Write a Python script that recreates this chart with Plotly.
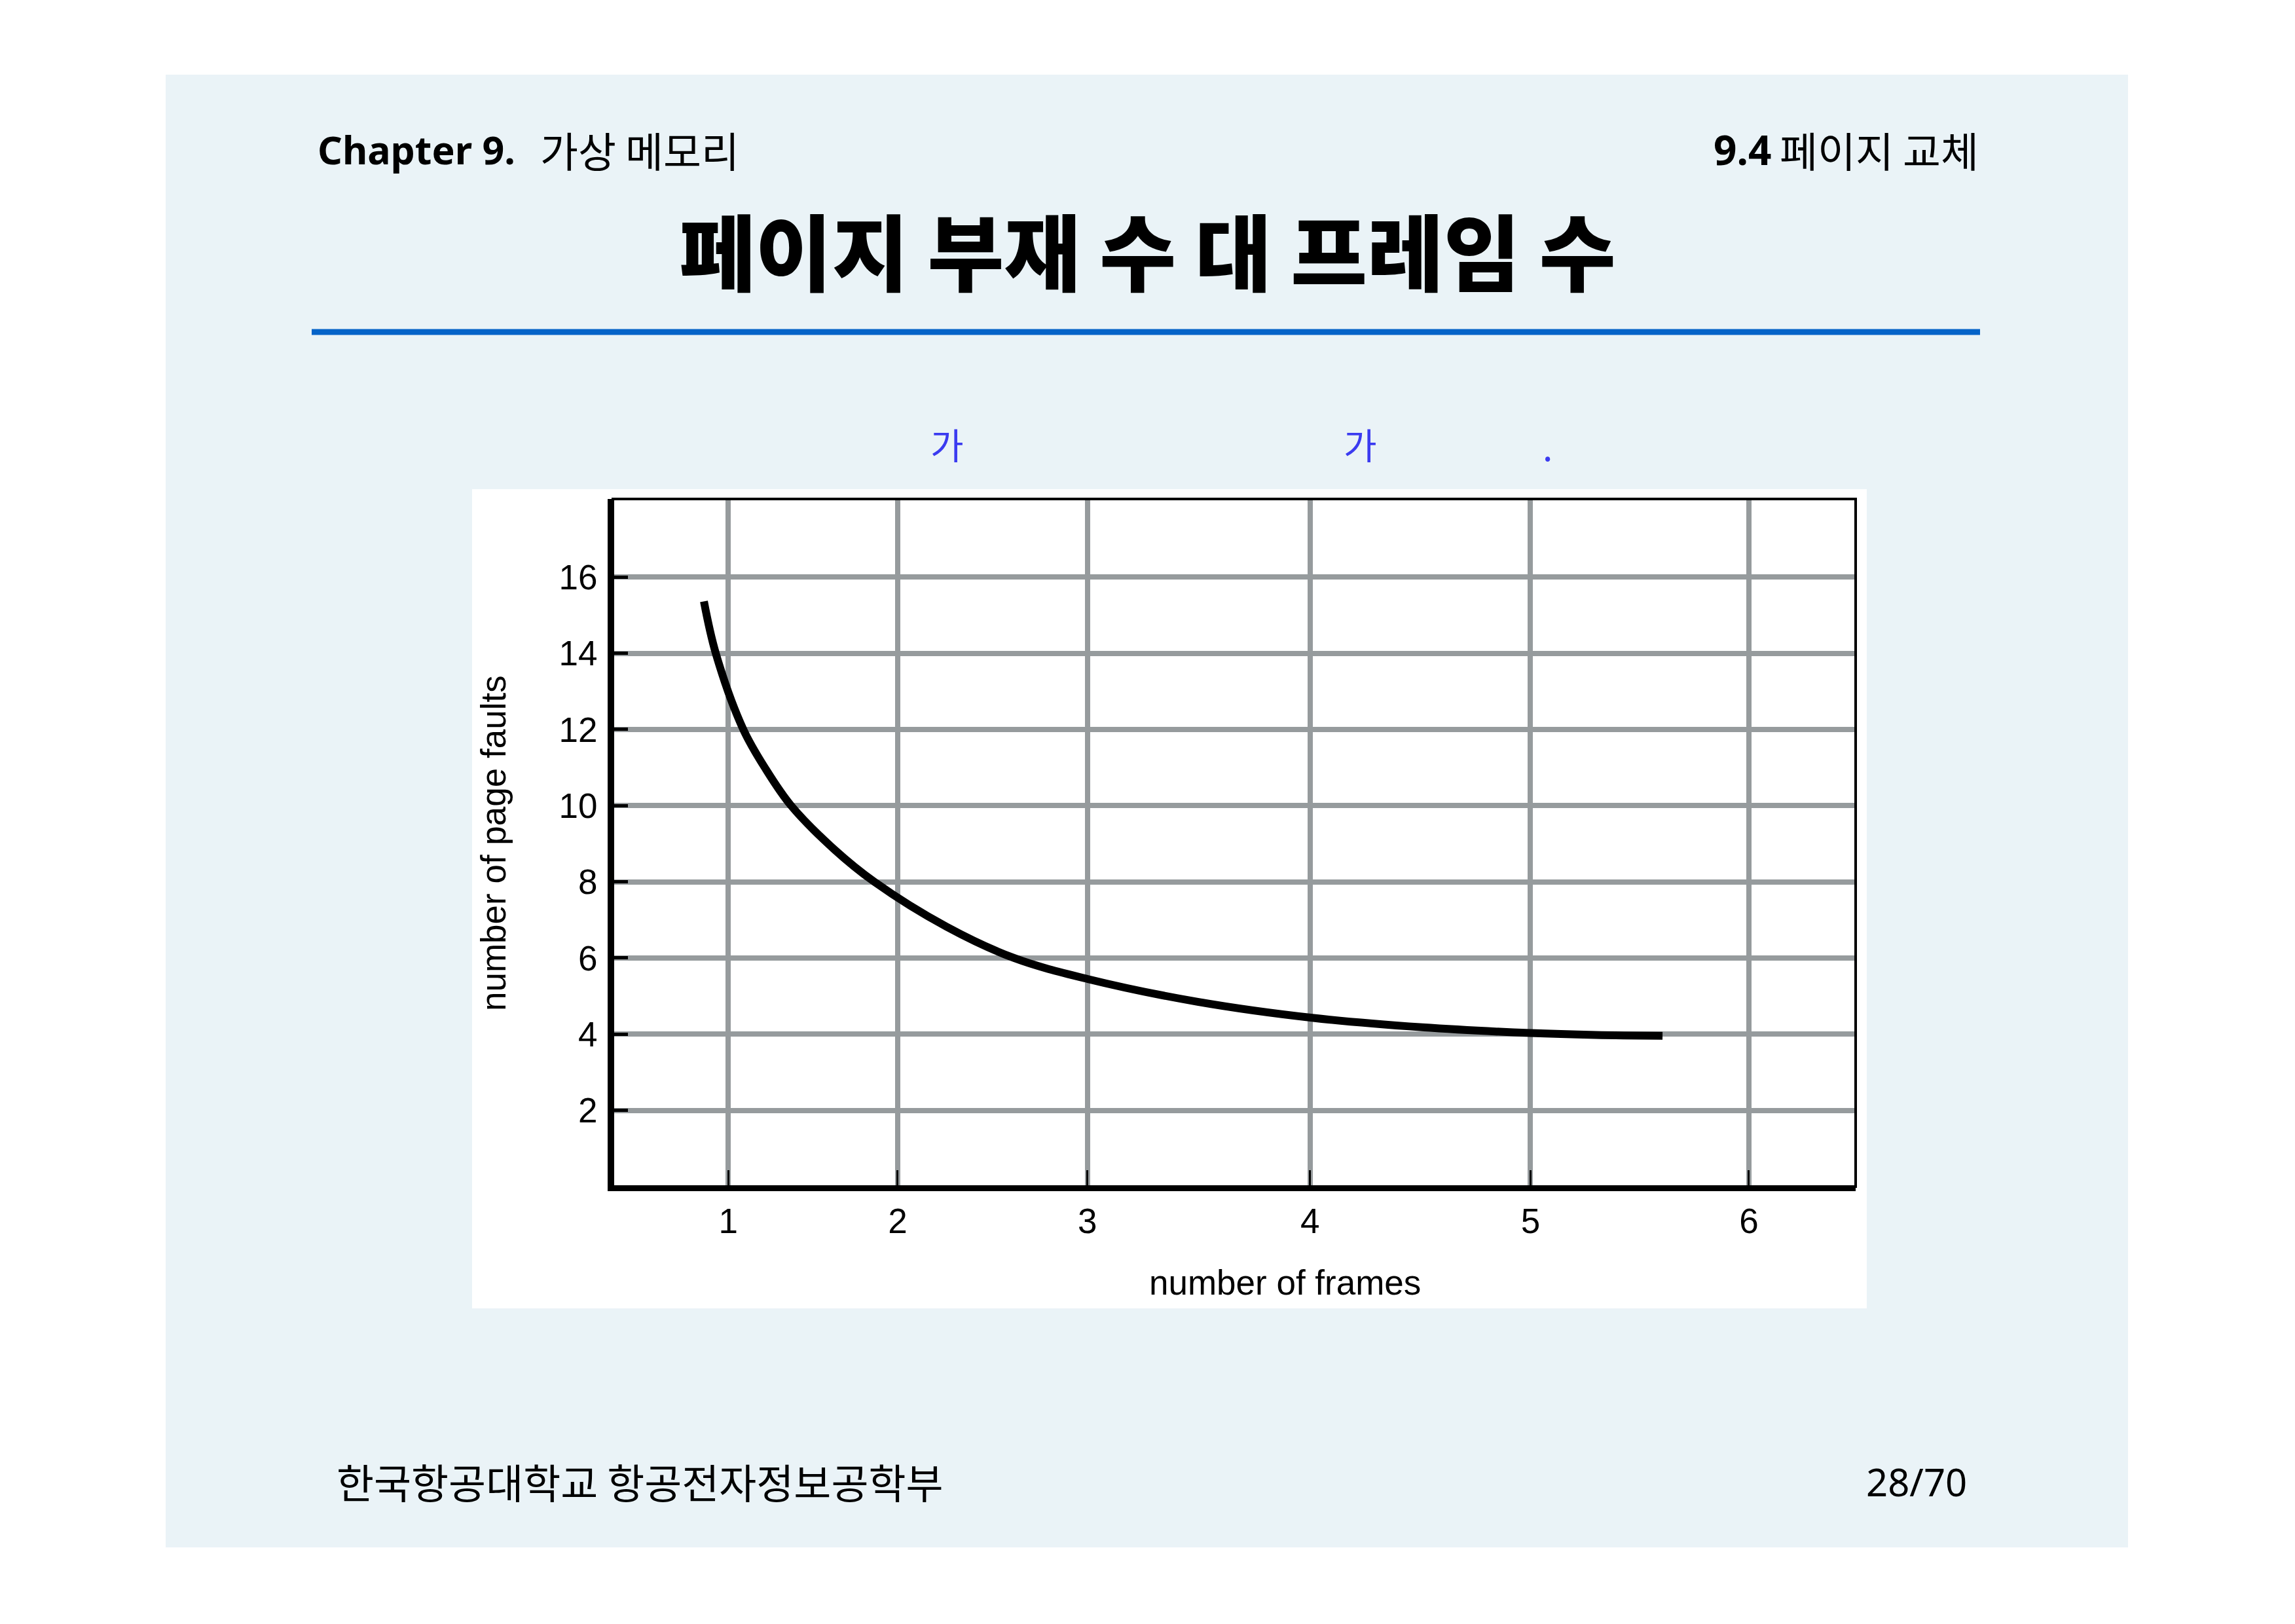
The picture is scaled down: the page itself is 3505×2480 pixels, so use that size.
import plotly.graph_objects as go

# ---------------- data ----------------
frame_labels = ["1", "2", "3", "4", "5", "6"]
# positions of the (unevenly spaced) frame gridlines on the drawn axis
frame_tick_pos = [1.0, 1.83, 2.76, 3.85, 4.93, 6.0]
fault_ticks = [2, 4, 6, 8, 10, 12, 14, 16]

curve_x = [0.881, 0.939, 1.074, 1.185, 1.308, 1.52, 1.716, 2.07, 2.40,
           2.76, 3.30, 3.86, 4.40, 4.93, 5.25, 5.577]
curve_y = [15.36, 14.0, 12.0, 10.95, 10.0, 8.85, 8.0, 6.82, 6.0,
           5.45, 4.85, 4.43, 4.18, 4.03, 3.98, 3.96]

W, H = 3505, 2480


def px(x):
    return x / W


def py(y):
    return 1 - y / H


fig = go.Figure()
fig.add_trace(go.Scatter(
    x=curve_x, y=curve_y, mode="lines",
    line=dict(color="black", width=12, shape="spline", smoothing=1.0),
    hoverinfo="skip", showlegend=False,
))

tick_font = dict(family="Liberation Sans, Arial, sans-serif", size=53, color="black")
grid_col = "#969B9D"

fig.update_layout(
    width=W, height=H,
    margin=dict(l=0, r=0, t=0, b=0),
    paper_bgcolor="white",
    plot_bgcolor="white",
    showlegend=False,
    xaxis=dict(
        domain=[px(936), px(2834)],
        range=[0.435, 6.523],
        tickmode="array", tickvals=frame_tick_pos, ticktext=frame_labels,
        showgrid=True, gridcolor=grid_col, gridwidth=8,
        zeroline=False,
        showline=True, linecolor="black", linewidth=7,
        ticks="inside", ticklen=25, tickwidth=3, tickcolor="black",
        tickfont=tick_font, ticklabelstandoff=0,
    ),
    yaxis=dict(
        domain=[py(1812), py(762)],
        range=[0, 18.05],
        tickmode="array", tickvals=fault_ticks,
        showgrid=True, gridcolor=grid_col, gridwidth=8,
        zeroline=False,
        showline=True, linecolor="black", linewidth=8,
        ticks="inside", ticklen=23, tickwidth=5, tickcolor="black",
        tickfont=tick_font, ticklabelstandoff=5,
    ),
)

shapes = [
    # slide panel
    dict(type="rect", xref="paper", yref="paper",
         x0=px(253), x1=px(3250), y0=py(2363), y1=py(114),
         fillcolor="#EAF3F7", line=dict(width=0), layer="below"),
    # white figure panel
    dict(type="rect", xref="paper", yref="paper",
         x0=px(721), x1=px(2851), y0=py(1998), y1=py(747),
         fillcolor="white", line=dict(width=0), layer="below"),
    # blue rule under title
    dict(type="line", xref="paper", yref="paper",
         x0=px(476), x1=px(3024), y0=py(507), y1=py(507),
         line=dict(color="#0563C8", width=9)),
    # plot frame (top/right thinner border)
    dict(type="rect", xref="x domain", yref="y domain",
         x0=0, x1=1, y0=0, y1=1,
         line=dict(color="black", width=4), layer="above"),
]
fig.update_layout(shapes=shapes)

kr = "Noto Sans CJK KR, Noto Sans, sans-serif"
hdr = "Noto Sans, Noto Sans CJK KR, sans-serif"
ann = [
    dict(text="<b>Chapter 9.</b>", x=px(483), y=py(228),
         xanchor="left", yanchor="middle", font=dict(family=hdr, size=59, color="black")),
    dict(text="가상 메모리", x=px(823), y=py(228),
         xanchor="left", yanchor="middle", font=dict(family=kr, size=63, color="black")),
    dict(text="<b>9.4</b>", x=px(2707), y=py(228),
         xanchor="right", yanchor="middle", font=dict(family=hdr, size=62, color="black")),
    dict(text="페이지 교체", x=px(3024), y=py(228),
         xanchor="right", yanchor="middle", font=dict(family=kr, size=63, color="black")),
    dict(text="페이지 부재 수 대 프레임 수", x=px(1752), y=py(380),
         xanchor="center", yanchor="middle",
         font=dict(family=kr, size=127, color="black", weight=900)),
    dict(text="가", x=px(1446), y=py(677), xanchor="center", yanchor="middle",
         font=dict(family=kr, size=55, color="#3B3BF0")),
    dict(text="가", x=px(2077), y=py(677), xanchor="center", yanchor="middle",
         font=dict(family=kr, size=55, color="#3B3BF0")),
    dict(text=".", x=px(2363), y=py(680), xanchor="center", yanchor="middle",
         font=dict(family=kr, size=55, color="#3B3BF0")),
    dict(text="number of frames", x=px(1963), y=py(1958), xanchor="center", yanchor="middle",
         font=tick_font),
    dict(text="number of page faults", x=px(753), y=py(1288), xanchor="center", yanchor="middle",
         textangle=-90, font=tick_font),
    dict(text="한국항공대학교 항공전자정보공학부", x=px(512), y=py(2262),
         xanchor="left", yanchor="middle", font=dict(family=kr, size=62, color="black")),
    dict(text="28/70", x=px(3006), y=py(2262),
         xanchor="right", yanchor="middle", font=dict(family=hdr, size=58, color="black")),
]
for a in ann:
    a.update(xref="paper", yref="paper", showarrow=False)
fig.update_layout(annotations=ann)

fig.write_html("out.html")
